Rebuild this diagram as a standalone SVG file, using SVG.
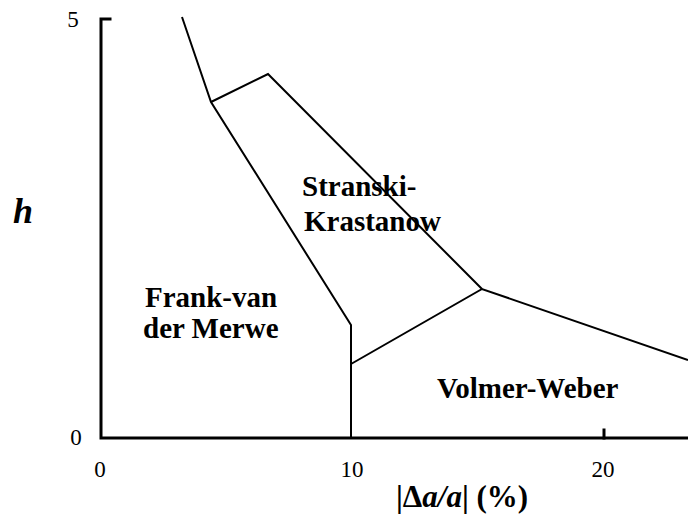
<svg xmlns="http://www.w3.org/2000/svg" width="688" height="518" viewBox="0 0 688 518">
<style>
.axis{fill:none;stroke:#000;stroke-width:3;stroke-linecap:square}
.bd{fill:none;stroke:#000;stroke-width:2;stroke-linejoin:miter}
.num{font-family:"Liberation Serif","Times New Roman",serif;font-size:23px;fill:#000;text-anchor:middle}
.lbl{font-family:"Liberation Serif","Times New Roman",serif;font-size:29px;font-weight:bold;fill:#000}
</style>
<rect width="688" height="518" fill="#fff"/>
<g id="axes">
<polyline class="axis" points="110,19 101,19 101,438 688,438"/>
<line class="axis" x1="604" y1="430" x2="604" y2="438"/>
<text class="num" x="73" y="27">5</text>
<text class="num" x="76" y="445">0</text>
<text class="num" x="100" y="477">0</text>
<text class="num" x="352" y="477">10</text>
<text class="num" x="603" y="477">20</text>
<text class="lbl" x="13" y="223" style="font-size:36px;font-style:italic">h</text>
<text class="lbl" x="396" y="507" style="font-size:31px">|Δ<tspan style="font-style:italic">a/a</tspan>| (%)</text>
</g>
<g id="connectors">
<polyline class="bd" points="182,17 211,102 351,325 351,438"/>
<polyline class="bd" points="211,102 268,74 482,289"/>
<polyline class="bd" points="351,364 482,289 688,360"/>
</g>
<g id="stranski">
<text class="lbl" x="302" y="196">Stranski-</text>
<text class="lbl" x="304" y="231">Krastanow</text>
</g>
<g id="frank">
<text class="lbl" x="145" y="307">Frank-van</text>
<text class="lbl" x="143" y="338">der Merwe</text>
</g>
<g id="volmer">
<text class="lbl" x="437" y="398">Volmer-Weber</text>
</g>
</svg>
